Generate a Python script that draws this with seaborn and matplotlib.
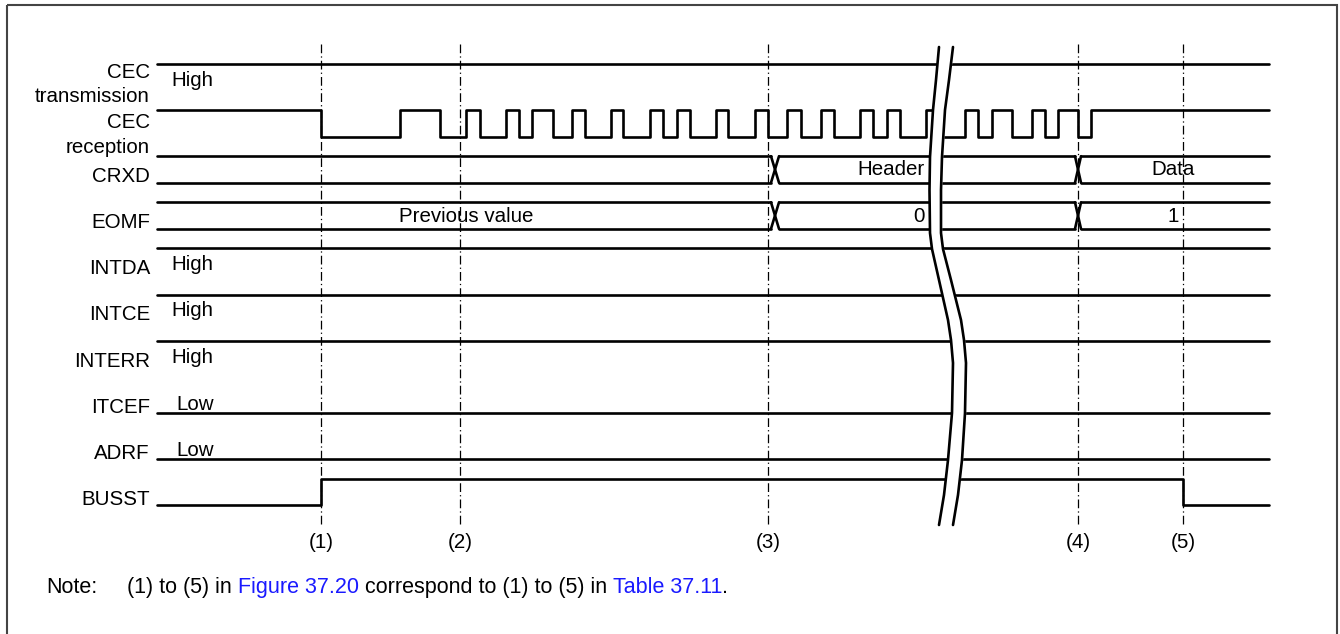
import numpy as np
import pandas as pd
import matplotlib
matplotlib.use("Agg")
import matplotlib.pyplot as plt
import seaborn as sns


# signal rows, top to bottom
signals     = ["CEC\ntransmission", "CEC\nreception", "CRXD", "EOMF", "INTDA",
               "INTCE", "INTERR", "ITCEF", "ADRF", "BUSST"]
kinds       = ["bit", "bit", "bus", "bus", "bit", "bit", "bit", "bit", "bit", "bit"]
level_notes = ["High", None, None, None, "High", "High", "High", "Low", "Low", None]

# bit signals: level at start (1 = high) and the times where the level toggles
start_level = [1, 1, None, None, 1, 1, 1, 0, 0, 0]
toggles = [
    [],
    [321, 400, 440, 466, 480, 506, 519, 532, 553, 572, 585, 611, 623, 650, 663,
     677, 690, 716, 728, 755, 768, 787, 801, 821, 834, 860, 873, 887, 900, 926,
     938, 965, 978, 992, 1012, 1032, 1045, 1058, 1078, 1091],
    None, None, [], [], [], [], [],
    [321, 1183],
]

# bus signals: transition times and the value shown in each segment
bus_changes = {"CRXD": [775, 1078], "EOMF": [775, 1078]}
bus_values  = {"CRXD": ["", "Header", "Data"], "EOMF": ["Previous value", "0", "1"]}

# timing points
marker_times  = [321, 460, 768, 1078, 1183]
marker_labels = ["(1)", "(2)", "(3)", "(4)", "(5)"]

t_start, t_end = 157, 1269

# time-axis break (two wavy lines)
break_y  = [47, 80, 110, 157, 190, 233, 249, 280, 320, 340, 363, 413, 460, 495, 525]
break_xl = [939, 936, 933, 930, 929.5, 930, 932, 939, 948, 951, 953, 952, 948, 944, 939]
break_xr = [953, 949, 945, 942, 941, 941, 943, 951, 961, 964, 966, 965, 962, 958, 953]

note_parts  = ["(1) to (5) in ", "Figure 37.20", " correspond to (1) to (5) in ",
               "Table 37.11", "."]
note_colors = ["black", "#1a1aff", "black", "#1a1aff", "black"]


ROW_TOP   = 64
ROW_STEP  = 46.1
AMPLITUDE = 26.5
LW        = 1.9
FONT      = 14.8
NOTE_FONT = 15.5

sns.set_theme(style="white")
plt.rcParams["font.family"] = ["Liberation Sans", "DejaVu Sans"]
plt.rcParams["text.color"] = "black"

fig = plt.figure(figsize=(13.4, 6.34), dpi=100)
ax = fig.add_axes([0, 0, 1, 1])
ax.set_xlim(0, 1340)
ax.set_ylim(634, 0)
ax.axis("off")


def row_high(i):
    return ROW_TOP + ROW_STEP * i


# build one table of line segments for all waveforms
rows = []
seg = 0
for i, name in enumerate(signals):
    hi = row_high(i)
    lo = hi + AMPLITUDE
    if kinds[i] == "bit":
        level = start_level[i]
        xs, ys = [t_start], [hi if level else lo]
        for t in toggles[i]:
            xs.append(t); ys.append(hi if level else lo)
            level = 1 - level
            xs.append(t); ys.append(hi if level else lo)
        xs.append(t_end); ys.append(hi if level else lo)
        for x, y in zip(xs, ys):
            rows.append((seg, x, y))
        seg += 1
    else:
        changes = bus_changes[name]
        half = [4, 3]
        bounds = [t_start] + changes + [t_end]
        for k in range(len(bounds) - 1):
            a = bounds[k] + (half[k - 1] if k > 0 else 0)
            b = bounds[k + 1] - (half[k] if k < len(changes) else 0)
            for y in (hi, lo):
                rows.append((seg, a, y)); rows.append((seg, b, y)); seg += 1
        for k, c in enumerate(changes):
            w = half[k]
            rows.append((seg, c - w, hi)); rows.append((seg, c + w, lo)); seg += 1
            rows.append((seg, c - w, lo)); rows.append((seg, c + w, hi)); seg += 1

waves = pd.DataFrame(rows, columns=["seg", "t", "y"])
sns.lineplot(data=waves, x="t", y="y", units="seg", estimator=None, sort=False,
             color="black", linewidth=LW, ax=ax, zorder=3, legend=False)

# dash-dot timing markers
marks = pd.DataFrame(
    [(k, t, y) for k, t in enumerate(marker_times) for y in (44, 525)],
    columns=["seg", "t", "y"])
sns.lineplot(data=marks, x="t", y="y", units="seg", estimator=None, sort=False,
             color="black", linewidth=0.9, ax=ax, zorder=2, legend=False,
             linestyle=(0, (7, 2.5, 1, 2.5)))
for t, lab in zip(marker_times, marker_labels):
    ax.text(t, 542, lab, ha="center", va="center", fontsize=FONT)

# row labels
for i, name in enumerate(signals):
    hi = row_high(i)
    lines = name.split("\n")
    if len(lines) == 1:
        ax.text(150, hi + AMPLITUDE - 0.5, name, ha="right", va="baseline", fontsize=FONT)
    else:
        first = hi + (14 if i == 0 else 18)
        for j, ln in enumerate(lines):
            ax.text(150, first + 24.5 * j, ln, ha="right", va="baseline", fontsize=FONT)
    note = level_notes[i]
    if note == "High":
        ax.text(171, hi + 22, note, ha="left", va="baseline", fontsize=FONT)
    elif note == "Low":
        ax.text(176, hi + AMPLITUDE - 3, note, ha="left", va="baseline", fontsize=FONT)

# bus values
for i, name in enumerate(signals):
    if kinds[i] != "bus":
        continue
    mid = row_high(i) + AMPLITUDE / 2
    bounds = [t_start] + bus_changes[name] + [t_end]
    for k, val in enumerate(bus_values[name]):
        a, b = bounds[k], bounds[k + 1]
        brk = np.interp(mid, break_y, break_xl)
        if a < brk < b:
            ax.text(brk - 5, mid + 6, val, ha="right", va="baseline", fontsize=FONT)
        else:
            ax.text((a + b) / 2, mid + 6, val, ha="center", va="baseline", fontsize=FONT)

# time break
ax.fill_betweenx(break_y, break_xl, break_xr, color="white", zorder=5)
ax.plot(break_xl, break_y, color="black", linewidth=LW, zorder=6)
ax.plot(break_xr, break_y, color="black", linewidth=LW, zorder=6)

# note line
ax.text(46, 593, "Note:", ha="left", va="baseline", fontsize=NOTE_FONT)
renderer = fig.canvas.get_renderer()
x = 127
for part, col in zip(note_parts, note_colors):
    txt = ax.text(x, 593, part, ha="left", va="baseline", fontsize=NOTE_FONT, color=col)
    x = ax.transData.inverted().transform(
        (txt.get_window_extent(renderer).x1, 0))[0]

# frame
ax.add_patch(plt.Rectangle((7, 5), 1330, 640, fill=False, edgecolor="#444444",
                           linewidth=1.5, zorder=1))

fig.savefig("out.png", dpi=100)
